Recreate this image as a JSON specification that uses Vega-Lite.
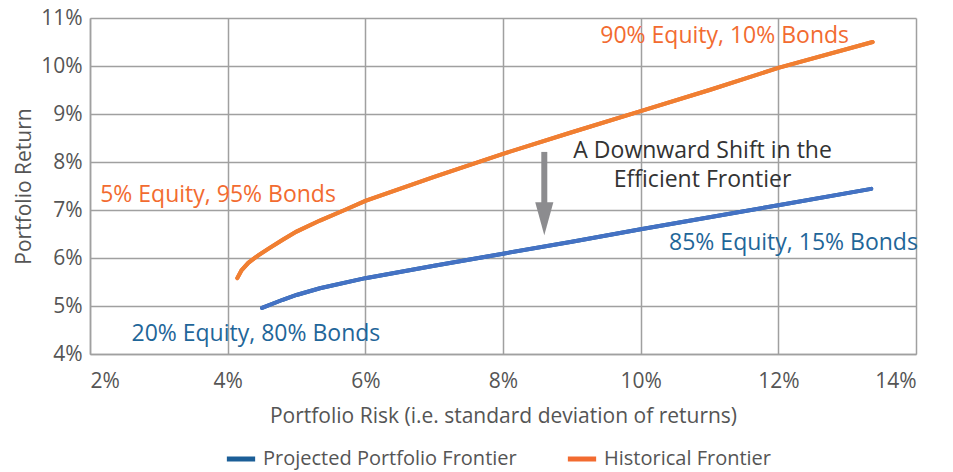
{
  "$schema": "https://vega.github.io/schema/vega-lite/v6.json",
  "width": 826,
  "height": 336,
  "autosize": "none",
  "padding": {"left": 90, "top": 18, "right": 37, "bottom": 118},
  "background": "white",
  "config": {
    "font": "Open Sans",
    "view": {"stroke": null},
    "axis": {
      "gridColor": "#a0a0a0",
      "gridWidth": 1.5,
      "domainColor": "#a0a0a0",
      "domainWidth": 1.5,
      "ticks": false,
      "labelFontSize": 21,
      "labelColor": "#555555",
      "titleFontSize": 21,
      "titleColor": "#555555",
      "titleFontWeight": "normal"
    }
  },
  "datasets": {
    "frontier": [
      {"series": "Projected Portfolio Frontier", "risk": 4.5, "ret": 4.96},
      {"series": "Projected Portfolio Frontier", "risk": 4.8, "ret": 5.13},
      {"series": "Projected Portfolio Frontier", "risk": 5.0, "ret": 5.23},
      {"series": "Projected Portfolio Frontier", "risk": 5.34, "ret": 5.37},
      {"series": "Projected Portfolio Frontier", "risk": 6.0, "ret": 5.58},
      {"series": "Projected Portfolio Frontier", "risk": 7.0, "ret": 5.84},
      {"series": "Projected Portfolio Frontier", "risk": 8.0, "ret": 6.09},
      {"series": "Projected Portfolio Frontier", "risk": 9.0, "ret": 6.34},
      {"series": "Projected Portfolio Frontier", "risk": 10.0, "ret": 6.6},
      {"series": "Projected Portfolio Frontier", "risk": 11.0, "ret": 6.85},
      {"series": "Projected Portfolio Frontier", "risk": 12.0, "ret": 7.1},
      {"series": "Projected Portfolio Frontier", "risk": 13.35, "ret": 7.44},
      {"series": "Historical Frontier", "risk": 4.14, "ret": 5.58},
      {"series": "Historical Frontier", "risk": 4.2, "ret": 5.74},
      {"series": "Historical Frontier", "risk": 4.3, "ret": 5.9},
      {"series": "Historical Frontier", "risk": 4.45, "ret": 6.06},
      {"series": "Historical Frontier", "risk": 4.6, "ret": 6.2},
      {"series": "Historical Frontier", "risk": 4.8, "ret": 6.38},
      {"series": "Historical Frontier", "risk": 5.0, "ret": 6.55},
      {"series": "Historical Frontier", "risk": 5.34, "ret": 6.78},
      {"series": "Historical Frontier", "risk": 5.7, "ret": 7.0},
      {"series": "Historical Frontier", "risk": 6.0, "ret": 7.19},
      {"series": "Historical Frontier", "risk": 7.0, "ret": 7.69},
      {"series": "Historical Frontier", "risk": 8.0, "ret": 8.17},
      {"series": "Historical Frontier", "risk": 9.0, "ret": 8.62},
      {"series": "Historical Frontier", "risk": 10.0, "ret": 9.06},
      {"series": "Historical Frontier", "risk": 11.0, "ret": 9.5},
      {"series": "Historical Frontier", "risk": 12.0, "ret": 9.96},
      {"series": "Historical Frontier", "risk": 13.37, "ret": 10.5}
    ],
    "labels": [
      {"group": "Historical", "label": "90% Equity, 10% Bonds", "risk": 11.22, "ret": 10.62},
      {"group": "Historical", "label": "5% Equity, 95% Bonds", "risk": 3.86, "ret": 7.31},
      {"group": "Projected", "label": "20% Equity, 80% Bonds", "risk": 4.41, "ret": 4.42},
      {"group": "Projected", "label": "85% Equity, 15% Bonds", "risk": 12.22, "ret": 6.31},
      {"group": "Note", "label": "A Downward Shift in the\nEfficient Frontier", "risk": 10.9, "ret": 8.23}
    ],
    "arrow": [
      {"risk": 8.6, "top": 8.21, "bottom": 7.05, "head": 6.82}
    ]
  },
  "layer": [
    {
      "data": {"name": "frontier"},
      "mark": {"type": "line", "strokeWidth": 4, "strokeCap": "round"},
      "encoding": {
        "x": {
          "field": "risk", "type": "quantitative",
          "scale": {"domain": [2, 14], "nice": false, "zero": false},
          "axis": {"values": [2, 4, 6, 8, 10, 12, 14], "labelExpr": "datum.value + '%'", "labelPadding": 16, "title": "Portfolio Risk (i.e. standard deviation of returns)", "titlePadding": 14}
        },
        "y": {
          "field": "ret", "type": "quantitative",
          "scale": {"domain": [4, 11], "nice": false, "zero": false},
          "axis": {"values": [4, 5, 6, 7, 8, 9, 10, 11], "labelExpr": "datum.value + '%'", "labelPadding": 8, "title": "Portfolio Return", "titlePadding": 6}
        },
        "color": {
          "field": "series", "type": "nominal",
          "scale": {"domain": ["Projected Portfolio Frontier", "Historical Frontier"], "range": ["#1b5e97", "#f26b30"]},
          "legend": {
            "title": null,
            "orient": "none",
            "direction": "horizontal",
            "legendX": 134,
            "legendY": 424,
            "symbolType": "stroke",
            "symbolSize": 800,
            "symbolStrokeWidth": 5,
            "labelFontSize": 20,
            "labelLimit": 0,
            "labelColor": "#555555",
            "labelOffset": 5,
            "columnPadding": 40
          }
        },
        "order": {"field": "risk", "type": "quantitative"}
      }
    },
    {
      "data": {"name": "frontier"},
      "transform": [{"filter": "datum.series == 'Projected Portfolio Frontier'"}],
      "mark": {"type": "line", "strokeWidth": 4, "strokeCap": "round", "color": "#4472c4"},
      "encoding": {
        "x": {"field": "risk", "type": "quantitative"},
        "y": {"field": "ret", "type": "quantitative"},
        "order": {"field": "risk", "type": "quantitative"}
      }
    },
    {
      "data": {"name": "frontier"},
      "transform": [{"filter": "datum.series == 'Historical Frontier'"}],
      "mark": {"type": "line", "strokeWidth": 4, "strokeCap": "round", "color": "#f07f31"},
      "encoding": {
        "x": {"field": "risk", "type": "quantitative"},
        "y": {"field": "ret", "type": "quantitative"},
        "order": {"field": "risk", "type": "quantitative"}
      }
    },
    {
      "data": {"name": "arrow"},
      "mark": {"type": "rule", "strokeWidth": 6, "color": "#8c8c8f"},
      "encoding": {
        "x": {"field": "risk", "type": "quantitative"},
        "y": {"field": "top", "type": "quantitative"},
        "y2": {"field": "bottom"}
      }
    },
    {
      "data": {"name": "arrow"},
      "mark": {"type": "point", "shape": "M -0.55 -1 L 0.55 -1 L 0 1 Z", "filled": true, "size": 1089, "color": "#8c8c8f", "opacity": 1},
      "encoding": {
        "x": {"field": "risk", "type": "quantitative"},
        "y": {"field": "head", "type": "quantitative"}
      }
    },
    {
      "data": {"name": "labels"},
      "transform": [{"filter": "datum.group == 'Historical'"}],
      "mark": {"type": "text", "fontSize": 23, "color": "#f26b30", "align": "center", "baseline": "middle"},
      "encoding": {
        "x": {"field": "risk", "type": "quantitative"},
        "y": {"field": "ret", "type": "quantitative"},
        "text": {"field": "label"}
      }
    },
    {
      "data": {"name": "labels"},
      "transform": [{"filter": "datum.group == 'Projected'"}],
      "mark": {"type": "text", "fontSize": 23, "color": "#1f6699", "align": "center", "baseline": "middle"},
      "encoding": {
        "x": {"field": "risk", "type": "quantitative"},
        "y": {"field": "ret", "type": "quantitative"},
        "text": {"field": "label"}
      }
    },
    {
      "data": {"name": "labels"},
      "transform": [{"filter": "datum.group == 'Note'"}],
      "mark": {"type": "text", "fontSize": 23, "color": "#333333", "align": "center", "baseline": "middle", "lineBreak": "\n", "lineHeight": 29},
      "encoding": {
        "x": {"field": "risk", "type": "quantitative"},
        "y": {"field": "ret", "type": "quantitative"},
        "text": {"field": "label"}
      }
    }
  ]
}
